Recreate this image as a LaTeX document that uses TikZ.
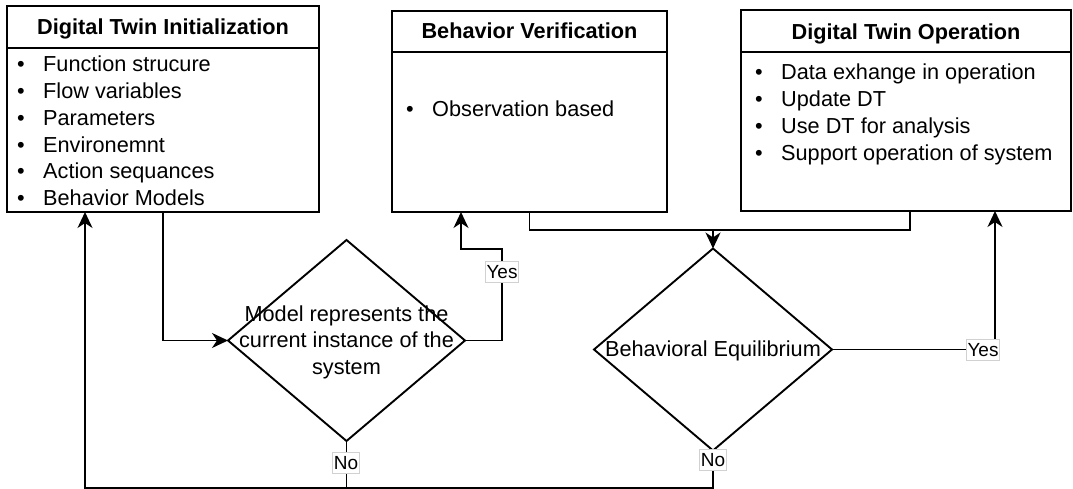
\documentclass[tikz,border=0pt]{standalone}
\usepackage{fontspec}
\setmainfont{Liberation Sans}
\usetikzlibrary{arrows.meta,shapes.geometric}
\newcommand{\itm}[1]{\makebox[26pt][l]{\textbullet}#1}
\begin{document}
\begin{tikzpicture}[x=1pt,y=-1pt,
  box/.style={draw, line width=1.9pt, rectangle, inner sep=0pt, outer sep=0pt},
  ttl/.style={font=\fontsize{21.7}{26.7}\selectfont\bfseries, inner sep=0pt, anchor=base},
  txt/.style={font=\fontsize{21.7}{26.7}\selectfont, inner sep=0pt},
  dia/.style={draw, line width=1.9pt, diamond, inner sep=0pt, outer sep=0pt},
  arr/.style={line width=1.9pt, -{Stealth[length=16pt,width=15pt,inset=5pt]}},
  ln/.style={line width=1.9pt},
  lbl/.style={font=\fontsize{19}{22}\selectfont, draw=black!18, fill=white, inner xsep=1pt, inner ysep=3.5pt, line width=0.8pt}
]
\useasboundingbox (0,0) rectangle (1073,489);

% boxes
\node[box, minimum width=312pt, minimum height=206pt] (box1) at (163,109) {};
\node[box, minimum width=275pt, minimum height=201pt] (box2) at (529.5,111.5) {};
\node[box, minimum width=330pt, minimum height=201pt] (box3) at (906,110.5) {};
\draw[ln] (box1.west |- 0,48) -- (box1.east |- 0,48);
\draw[ln] (box2.west |- 0,52) -- (box2.east |- 0,52);
\draw[ln] (box3.west |- 0,52) -- (box3.east |- 0,52);

% titles
\node[ttl] (t1) at (163,35) {Digital Twin Initialization};
\node[ttl] (t2) at (529.5,39) {Behavior Verification};
\node[ttl] (t3) at (906,40) {Digital Twin Operation};

% item lists
\node[txt, anchor=base west] (l1) at (17,72) {\begin{tabular}[t]{@{}l@{}}
\itm{Function strucure}\\
\itm{Flow variables}\\
\itm{Parameters}\\
\itm{Environemnt}\\
\itm{Action sequances}\\
\itm{Behavior Models}
\end{tabular}};
\node[txt, anchor=base west] (l2) at (406,117) {\itm{Observation based}};
\node[txt, anchor=base west] (l3) at (755,80) {\begin{tabular}[t]{@{}l@{}}
\itm{Data exhange in operation}\\
\itm{Update DT}\\
\itm{Use DT for analysis}\\
\itm{Support operation of system}
\end{tabular}};

% diamonds
\node[dia, minimum width=237pt, minimum height=201pt] (dia1) at (346.5,340.5) {};
\node[dia, minimum width=238pt, minimum height=202pt] (dia2) at (713,349.5) {};
\node[txt, anchor=base] (dt1) at (346.5,321) {\begin{tabular}[t]{@{}c@{}}Model represents the\\current instance of the\\system\end{tabular}};
\node[txt, anchor=base] (dt2) at (713,356) {Behavioral Equilibrium};

% helper coordinates
\coordinate (y1a) at (502,249);
\coordinate (bl) at (85,488);
\coordinate (m) at (713,230);

% connectors
\draw[arr] (box1.south) |- (dia1.west);
\draw[arr] (dia1.east) -| (y1a) -| ([xshift=69pt]box2.south west);
\draw[arr] (dia1.south) |- (bl) -- (bl |- box1.south);
\draw[ln] (dia2.south) |- (dia1.south |- bl);
\draw[ln] (box2.south) |- (m);
\draw[ln] ([xshift=4pt]box3.south) |- (m);
\draw[arr] (m) -- (dia2.north);
\draw[arr] (dia2.east) -| ([xshift=254pt]box3.south west);

% labels
\node[lbl] (yes1) at (502,272) {Yes};
\node[lbl] (no1) at (346,463) {No};
\node[lbl] (no2) at (713,460) {No};
\node[lbl] (yes2) at (983,350) {Yes};
\end{tikzpicture}
\end{document}
